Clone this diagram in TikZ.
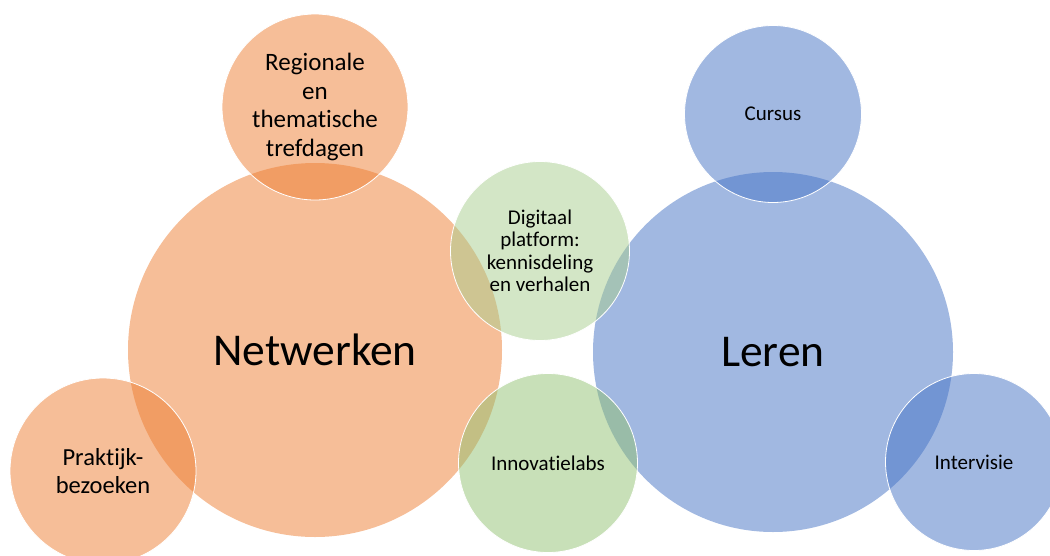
\documentclass[tikz,border=0pt]{standalone}
\usepackage{fontspec}
\setmainfont{Carlito}[Ligatures={NoCommon,NoContextual}]
\definecolor{oranje}{HTML}{ED7D31}
\definecolor{blauw}{HTML}{4472C4}
\definecolor{groen1}{HTML}{A7CD8D}
\definecolor{groen2}{HTML}{91C171}
\tikzset{
  bol/.style={circle, fill opacity=0.5, text opacity=1, align=center, inner sep=0pt},
  groot/.style={bol, font=\fontsize{45.5}{50}\selectfont},
  klein/.style={bol, draw=white, line width=0.8pt, font=\fontsize{21}{24}\selectfont}
}
\begin{document}
\begin{tikzpicture}[x=1pt,y=-1pt]
  \useasboundingbox (0,0) rectangle (1050,555);
  \node[groot, fill=oranje, minimum size=374pt] (net) at (315,350) {Netwerken};
  \node[groot, fill=blauw, minimum size=360pt] (leren) at (773,352) {Leren};

  \node[klein, fill=oranje, minimum size=186pt, font=\fontsize{25}{28.5}\selectfont] (reg) at (315,107) {Regionale\\en\\thematische\\trefdagen};
  \node[klein, fill=oranje, minimum size=186pt, font=\fontsize{24.5}{28.5}\selectfont] (prak) at (103,471) {Praktijk-\\bezoeken};
  \node[klein, fill=blauw, minimum size=177pt] (cursus) at (773,114) {Cursus};
  \node[klein, fill=blauw, minimum size=177pt] (inter) at (974,462) {Intervisie};
  \node[klein, fill=groen1, minimum size=179pt, font=\fontsize{21}{22.5}\selectfont] (dig) at (540,251) {Digitaal\\platform:\\kennisdeling\\en verhalen};
  \node[klein, fill=groen2, minimum size=179pt] (innov) at (548,463) {Innovatielabs};
\end{tikzpicture}
\end{document}
